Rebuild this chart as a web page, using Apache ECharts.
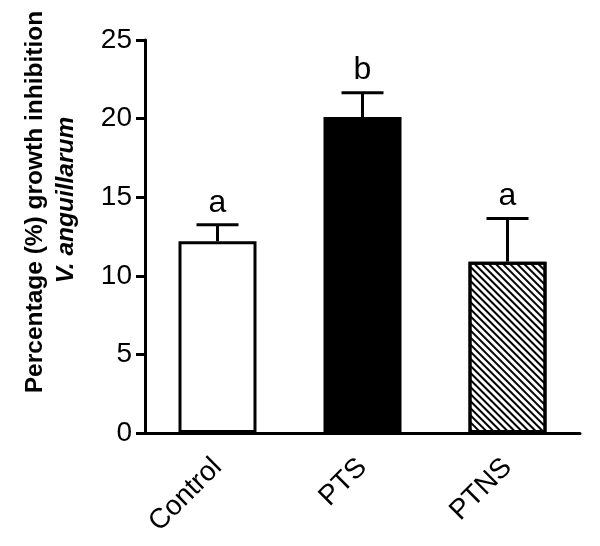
<!DOCTYPE html>
<html>
<head>
<meta charset="utf-8">
<script src="https://cdn.jsdelivr.net/npm/echarts@6/dist/echarts.min.js"></script>
<style>
  html, body { margin: 0; padding: 0; background: #fff; }
  #chart { width: 600px; height: 546px; }
</style>
</head>
<body>
<div id="chart"></div>
<script>
var categories = ['Control', 'PTS', 'PTNS'];
var means = [12.2, 20.1, 10.9];
var errors = [1.05, 1.55, 2.75];
var letters = ['a', 'b', 'a'];
var yTicks = [0, 5, 10, 15, 20, 25];

var fontName = '"Liberation Sans", Arial, sans-serif';

var myChart = echarts.init(document.getElementById('chart'));

var barData = means.map(function (v, i) {
  var style = { color: '#fff', borderColor: '#000', borderWidth: 3 };
  if (i === 1) {
    style.color = '#000';
  }
  if (i === 2) {
    // hatched fill, lines running top-left to bottom-right
    style.decal = {
      symbol: 'rect',
      symbolSize: 1,
      color: '#000',
      dashArrayX: [1, 0],
      dashArrayY: [1.3, 2.4],
      rotation: Math.PI / 4
    };
  }
  return { value: v, itemStyle: style };
});

var option = {
  animation: false,
  backgroundColor: '#fff',
  grid: { left: 145, right: 20, top: 40, bottom: 113, containLabel: false },
  xAxis: {
    type: 'category',
    data: categories,
    axisLine: { lineStyle: { color: '#000', width: 3 } },
    axisTick: { alignWithLabel: true, length: 10, lineStyle: { color: '#000', width: 3 } },
    axisLabel: {
      rotate: 45,
      margin: 30,
      color: '#000',
      fontFamily: fontName,
      fontSize: 28
    }
  },
  yAxis: {
    type: 'value',
    min: yTicks[0],
    max: yTicks[yTicks.length - 1],
    interval: 5,
    splitLine: { show: false },
    axisLine: { show: true, lineStyle: { color: '#000', width: 3 } },
    axisTick: { show: true, length: 9, lineStyle: { color: '#000', width: 3 } },
    axisLabel: {
      margin: 13,
      color: '#000',
      fontFamily: fontName,
      fontSize: 28
    }
  },
  graphic: [
    {
      type: 'text',
      x: 35,
      y: 202,
      rotation: Math.PI / 2,
      style: {
        text: 'Percentage (%) growth inhibition',
        fontFamily: fontName,
        fontWeight: 'bold',
        fontSize: 24.5,
        fill: '#000',
        textAlign: 'center',
        textVerticalAlign: 'middle'
      }
    },
    {
      type: 'text',
      x: 66,
      y: 200,
      rotation: Math.PI / 2,
      style: {
        text: 'V. anguillarum',
        fontFamily: fontName,
        fontWeight: 'bold',
        fontStyle: 'italic',
        fontSize: 24.5,
        fill: '#000',
        textAlign: 'center',
        textVerticalAlign: 'middle'
      }
    }
  ],
  series: [
    {
      type: 'bar',
      data: barData,
      barWidth: 78,
      z: 2
    },
    {
      type: 'custom',
      z: 5,
      data: means.map(function (v, i) { return [i, v, v + errors[i]]; }),
      renderItem: function (params, api) {
        var base = api.coord([api.value(0), api.value(1)]);
        var top = api.coord([api.value(0), api.value(2)]);
        var half = 21;
        var lineStyle = { stroke: '#000', lineWidth: 3 };
        return {
          type: 'group',
          children: [
            { type: 'line', shape: { x1: base[0], y1: base[1], x2: top[0], y2: top[1] }, style: lineStyle },
            { type: 'line', shape: { x1: top[0] - half, y1: top[1], x2: top[0] + half, y2: top[1] }, style: lineStyle },
            {
              type: 'text',
              x: top[0],
              y: top[1] - 6,
              style: {
                text: letters[params.dataIndex],
                fontFamily: fontName,
                fontSize: 32,
                fill: '#000',
                textAlign: 'center',
                textVerticalAlign: 'bottom'
              }
            }
          ]
        };
      }
    }
  ]
};

myChart.setOption(option);
</script>
</body>
</html>
